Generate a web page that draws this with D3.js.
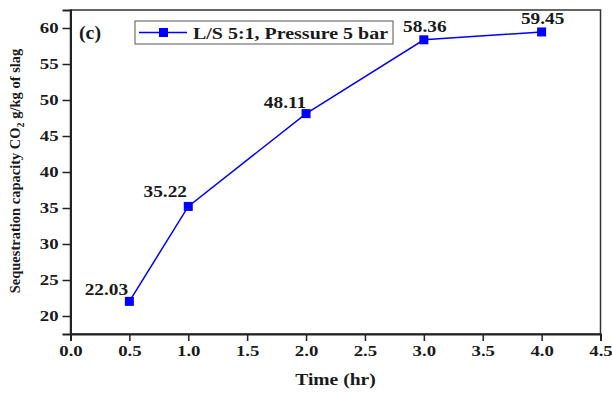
<!DOCTYPE html>
<html>
<head>
<meta charset="utf-8">
<script src="https://cdn.jsdelivr.net/npm/d3@7"></script>
<style>
  body { margin: 0; background: #fff; }
  svg text { font-family: "Liberation Serif", "Times New Roman", serif; font-weight: bold; fill: #1a1a1a; }
</style>
</head>
<body>
<div id="chart"></div>
<script>
// data
const times = [0.5, 1, 2, 3, 4];
const capacity = [22.03, 35.22, 48.11, 58.36, 59.45];
const pointLabels = ['22.03', '35.22', '48.11', '58.36', '59.45'];
const xTicks = [0, 0.5, 1, 1.5, 2, 2.5, 3, 3.5, 4, 4.5];
const yTicks = [20, 25, 30, 35, 40, 45, 50, 55, 60];
const seriesName = 'L/S 5:1, Pressure 5 bar';

const W = 612, H = 393;
const margin = {left: 70.5, right: 11.5, top: 10, bottom: 59};
const FONT = '"Liberation Serif", "Times New Roman", serif';

const svg = d3.select('#chart').append('svg')
  .attr('width', W)
  .attr('height', H);

// the source figure is a bit wider than tall, so the glyphs look stretched
function stretch(sel, sx) {
  sel.each(function() {
    let w = this.getComputedTextLength();
    d3.select(this)
      .attr('textLength', w * sx)
      .attr('lengthAdjust', 'spacingAndGlyphs');
  });
  return sel;
}

const x = d3.scaleLinear()
  .domain([0, 4.5])
  .range([margin.left, W - margin.right]);
const y = d3.scaleLinear()
  .domain([17.5, 62.5])
  .range([H - margin.bottom, margin.top]);

// frame
svg.append('rect')
  .attr('x', margin.left)
  .attr('y', margin.top)
  .attr('width', W - margin.left - margin.right)
  .attr('height', H - margin.top - margin.bottom)
  .attr('fill', 'none')
  .attr('stroke', '#333')
  .attr('stroke-width', 1.5);

let xAxis = svg.append('g')
  .attr('transform', `translate(0, ${H - margin.bottom})`)
  .call(d3.axisBottom(x).tickValues(xTicks).tickFormat(d3.format('.1f')).tickSize(7).tickPadding(4));
let yAxis = svg.append('g')
  .attr('transform', `translate(${margin.left}, 0)`)
  .call(d3.axisLeft(y).tickValues(yTicks).tickSize(8).tickPadding(4));

for (let ax of [xAxis, yAxis]) {
  ax.attr('font-family', FONT);
  ax.select('.domain').attr('stroke', '#222').attr('stroke-width', 2);
  ax.selectAll('.tick line').attr('stroke', '#222').attr('stroke-width', 1.5);
  ax.selectAll('.tick text')
    .attr('font-size', 15)
    .style('font-family', FONT)
    .attr('fill', '#1a1a1a');
}
stretch(xAxis.selectAll('.tick text'), 1.25);
stretch(yAxis.selectAll('.tick text'), 1.25);

// axis titles
stretch(svg.append('text')
  .attr('x', (margin.left + W - margin.right) / 2)
  .attr('y', 385)
  .attr('text-anchor', 'middle')
  .attr('font-size', 17)
  .text('Time (hr)'), 1.15);

let ytitle = svg.append('text')
  .attr('transform', `translate(20, ${(margin.top + H - margin.bottom) / 2 - 1}) rotate(-90)`)
  .attr('text-anchor', 'middle')
  .attr('font-size', 14.5);
ytitle.append('tspan').text('Sequestration capacity CO');
ytitle.append('tspan').attr('font-size', 10).attr('dy', 4).text('2');
ytitle.append('tspan').attr('dy', -4).text(' g/kg of slag');

// series
const line = d3.line()
  .x((d, i) => x(times[i]))
  .y(d => y(d));

svg.append('path')
  .datum(capacity)
  .attr('d', line)
  .attr('fill', 'none')
  .attr('stroke', '#0000ff')
  .attr('stroke-width', 1.5);

const sq = 9;
svg.selectAll('rect.pt')
  .data(capacity)
  .join('rect')
  .classed('pt', true)
  .attr('x', (d, i) => x(times[i]) - sq / 2)
  .attr('y', d => y(d) - sq / 2)
  .attr('width', sq)
  .attr('height', sq)
  .attr('fill', '#0000ff');

// value labels (offsets relative to each point)
const labelDx = [-23, -23, -21, 1, 1];
const labelDy = [-6, -9, -6, -8, -8];
stretch(svg.selectAll('text.val')
  .data(capacity)
  .join('text')
  .classed('val', true)
  .attr('x', (d, i) => x(times[i]) + labelDx[i])
  .attr('y', (d, i) => y(d) + labelDy[i])
  .attr('text-anchor', 'middle')
  .attr('font-size', 16.5)
  .text((d, i) => pointLabels[i]), 1.17);

// panel tag
stretch(svg.append('text')
  .attr('x', 79)
  .attr('y', 39)
  .attr('font-size', 18)
  .text('(c)'), 1.1);

// legend
let legend = svg.append('g').attr('transform', 'translate(135, 21)');
legend.append('rect')
  .attr('width', 258)
  .attr('height', 23)
  .attr('fill', '#fff')
  .attr('stroke', '#555')
  .attr('stroke-width', 1);
legend.append('line')
  .attr('x1', 4).attr('x2', 52)
  .attr('y1', 11.5).attr('y2', 11.5)
  .attr('stroke', '#0000ff')
  .attr('stroke-width', 1.5);
legend.append('rect')
  .attr('x', 24).attr('y', 7)
  .attr('width', 9).attr('height', 9)
  .attr('fill', '#0000ff');
stretch(legend.append('text')
  .attr('x', 58)
  .attr('y', 17.5)
  .attr('font-size', 17.5)
  .text(seriesName), 1);
legend.select('text').attr('textLength', 195);
</script>
</body>
</html>
